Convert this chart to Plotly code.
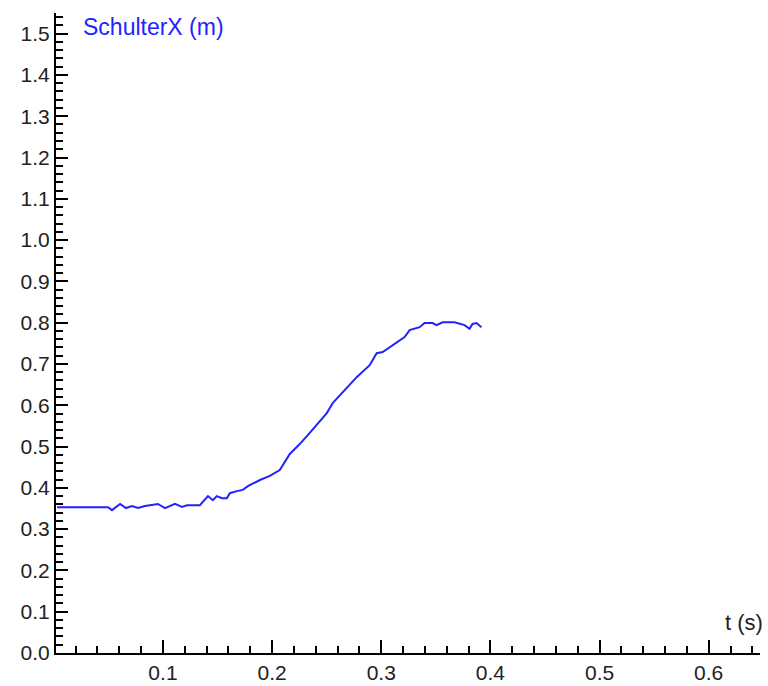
import plotly.graph_objects as go

t_values = [0.003, 0.0497, 0.0533, 0.0607, 0.0661, 0.0716, 0.0771, 0.0835, 0.0954, 0.1018,
            0.111, 0.1174, 0.122, 0.1338, 0.1412, 0.1457, 0.1494, 0.154, 0.1585, 0.1613,
            0.1677, 0.1732, 0.1778, 0.1888, 0.1979, 0.2070, 0.2162, 0.2253, 0.2345, 0.2409,
            0.2501, 0.2555, 0.2683, 0.2775, 0.2894, 0.2958, 0.3013, 0.3141, 0.3214, 0.3260,
            0.3351, 0.3397, 0.3470, 0.3507, 0.3562, 0.3672, 0.3717, 0.3763, 0.3809, 0.3836,
            0.3873, 0.3918]
schulter_x = [0.353, 0.353, 0.346, 0.361, 0.351, 0.356, 0.351, 0.356, 0.361, 0.351,
              0.361, 0.354, 0.358, 0.358, 0.380, 0.370, 0.380, 0.375, 0.375, 0.387,
              0.392, 0.395, 0.404, 0.419, 0.429, 0.443, 0.482, 0.506, 0.533, 0.552,
              0.581, 0.605, 0.642, 0.668, 0.697, 0.726, 0.729, 0.753, 0.765, 0.782,
              0.789, 0.799, 0.799, 0.794, 0.801, 0.801, 0.797, 0.794, 0.785, 0.797,
              0.799, 0.789]

x_ticks = [0.1, 0.2, 0.3, 0.4, 0.5, 0.6]
y_ticks = [round(i * 0.1, 1) for i in range(16)]

fig = go.Figure()
fig.add_trace(go.Scatter(x=t_values, y=schulter_x, mode="lines",
                         line=dict(color="#2222ff", width=2), showlegend=False))

font_family = "Liberation Sans, Arial, sans-serif"
fig.update_layout(
    width=768, height=686,
    margin=dict(l=56, r=8, t=13, b=33, autoexpand=False),
    paper_bgcolor="white", plot_bgcolor="white",
    font=dict(family=font_family, size=21, color="#222222"),
    xaxis=dict(range=[0.002, 0.647], tickvals=x_ticks, ticktext=[f"{v:.1f}" for v in x_ticks],
               showgrid=False, zeroline=False, showline=True, linecolor="black", linewidth=2,
               ticks="inside", ticklen=13, tickwidth=2, tickcolor="black", automargin=False,
               minor=dict(dtick=0.02, tick0=0, ticks="inside", ticklen=7, tickwidth=2, tickcolor="black"),
               tickfont=dict(size=21)),
    yaxis=dict(range=[0, 1.55], tickvals=y_ticks, ticktext=[f"{v:.1f}" for v in y_ticks],
               showgrid=False, zeroline=False, showline=True, linecolor="black", linewidth=2,
               ticks="inside", ticklen=12, tickwidth=2, tickcolor="black", automargin=False,
               minor=dict(dtick=0.02, tick0=0, ticks="inside", ticklen=7, tickwidth=2, tickcolor="black"),
               tickfont=dict(size=21)),
    annotations=[
        dict(text="SchulterX (m)", xref="paper", yref="paper", x=0.036, y=0.978,
             xanchor="left", yanchor="middle", showarrow=False,
             font=dict(size=23, color="#2222ff", family=font_family)),
        dict(text="t (s)", xref="paper", yref="paper", x=1.007, y=0.047,
             xanchor="right", yanchor="middle", showarrow=False,
             font=dict(size=22, color="#222222", family=font_family)),
    ],
)

fig.write_html("out.html", config={"displayModeBar": False},
               post_script="document.body.style.margin='0px';")
